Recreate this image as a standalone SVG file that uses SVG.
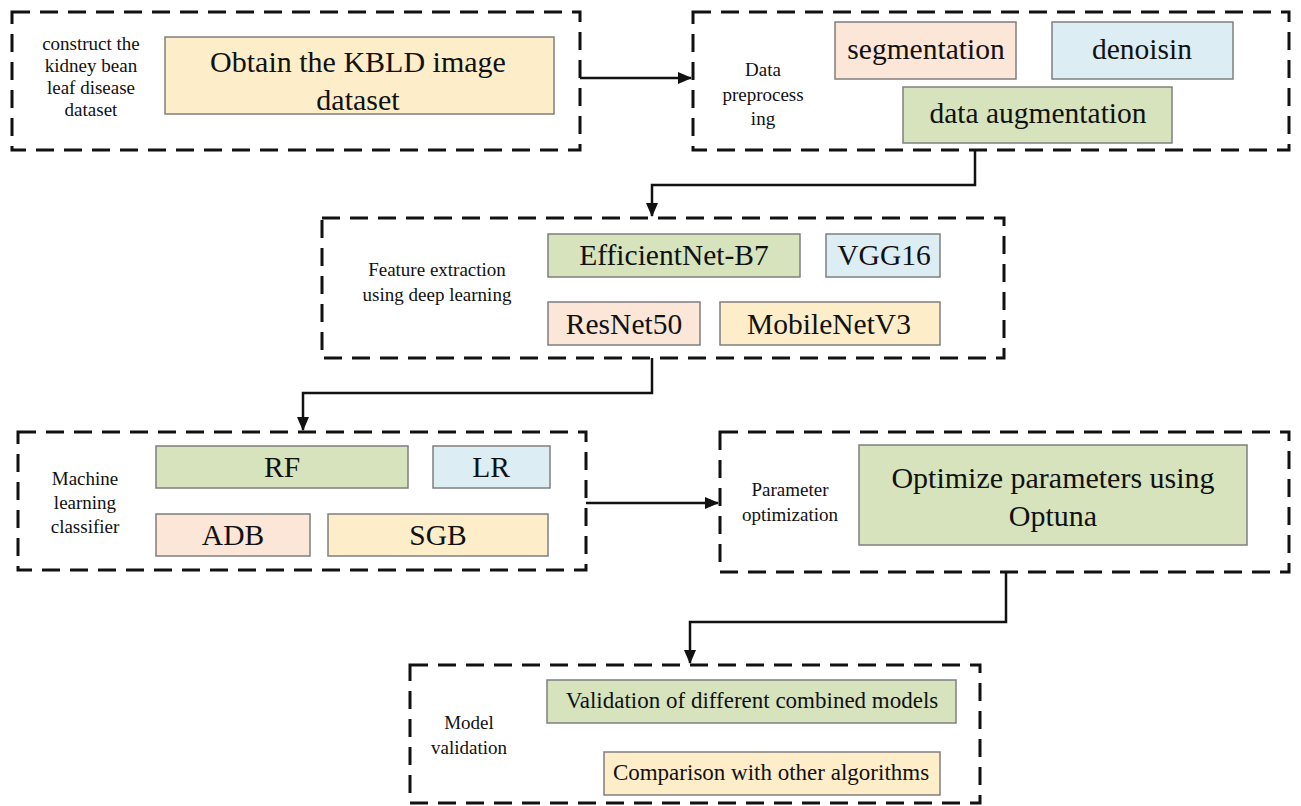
<svg xmlns="http://www.w3.org/2000/svg" width="1301" height="806" viewBox="0 0 1301 806">
<defs>
<style>
.grp{fill:none;stroke:#111;stroke-width:3;stroke-dasharray:18 10}
.b{stroke:#7f7f7f;stroke-width:1.5}
.y{fill:#fdedc9}.p{fill:#fbe6d8}.bl{fill:#dcedf4}.g{fill:#d6e3bd}
.t{font-family:"Liberation Serif","Times New Roman",serif;fill:#111;text-anchor:middle}
.big{font-size:30px}.mid{font-size:29.5px}.sm{font-size:23px}.lab{font-size:19px}
.c{fill:none;stroke:#111;stroke-width:2.5}
</style>
<marker id="ah" markerWidth="14" markerHeight="12" refX="13" refY="6" orient="auto" markerUnits="userSpaceOnUse">
<path d="M0,0 L14,6 L0,12 Z" fill="#111"/>
</marker>
</defs>
<rect width="1301" height="806" fill="#fff"/>

<g id="connectors">
<path class="c" d="M580,78 H691" marker-end="url(#ah)"/>
<path class="c" d="M975,150 V185 H652 V216" marker-end="url(#ah)"/>
<path class="c" d="M652,358 V393 H303 V430" marker-end="url(#ah)"/>
<path class="c" d="M586,503 H718" marker-end="url(#ah)"/>
<path class="c" d="M1006,572 V622 H690 V663" marker-end="url(#ah)"/>
</g>

<g id="node-dataset">
<rect class="grp" x="12" y="12" width="568" height="138"/>
<text class="t lab" x="91" y="50">construct the</text>
<text class="t lab" x="91" y="72">kidney bean</text>
<text class="t lab" x="91" y="94">leaf disease</text>
<text class="t lab" x="91" y="116">dataset</text>
<rect class="b y" x="165" y="37" width="389" height="77"/>
<text class="t big" x="358" y="72">Obtain the KBLD image</text>
<text class="t big" x="358" y="110">dataset</text>
</g>

<g id="node-preprocessing">
<rect class="grp" x="693" y="12" width="596" height="138"/>
<text class="t lab" x="763" y="76">Data</text>
<text class="t lab" x="763" y="101">preprocess</text>
<text class="t lab" x="763" y="125">ing</text>
<rect class="b p" x="835" y="22" width="181" height="57"/>
<text class="t mid" x="926" y="59">segmentation</text>
<rect class="b bl" x="1052" y="22" width="181" height="57"/>
<text class="t mid" x="1142" y="59">denoisin</text>
<rect class="b g" x="903" y="87" width="269" height="56"/>
<text class="t mid" x="1038" y="123">data augmentation</text>
</g>

<g id="node-feature">
<rect class="grp" x="322" y="218" width="682" height="140"/>
<text class="t lab" x="437" y="276">Feature extraction</text>
<text class="t lab" x="437" y="301">using deep learning</text>
<rect class="b g" x="548" y="234" width="252" height="43"/>
<text class="t mid" x="674" y="265">EfficientNet-B7</text>
<rect class="b bl" x="826" y="234" width="114" height="43"/>
<text class="t mid" x="884" y="265">VGG16</text>
<rect class="b p" x="548" y="302" width="152" height="43"/>
<text class="t mid" x="624" y="334">ResNet50</text>
<rect class="b y" x="720" y="302" width="220" height="43"/>
<text class="t mid" x="829" y="334">MobileNetV3</text>
</g>

<g id="node-classifier">
<rect class="grp" x="18" y="432" width="568" height="138"/>
<text class="t lab" x="85" y="485">Machine</text>
<text class="t lab" x="85" y="509">learning</text>
<text class="t lab" x="85" y="533">classifier</text>
<rect class="b g" x="156" y="446" width="252" height="42"/>
<text class="t mid" x="282" y="477">RF</text>
<rect class="b bl" x="433" y="446" width="117" height="42"/>
<text class="t mid" x="491" y="477">LR</text>
<rect class="b p" x="156" y="514" width="154" height="42"/>
<text class="t mid" x="233" y="545">ADB</text>
<rect class="b y" x="328" y="514" width="220" height="42"/>
<text class="t mid" x="438" y="545">SGB</text>
</g>

<g id="node-optimization">
<rect class="grp" x="720" y="432" width="569" height="140"/>
<text class="t lab" x="790" y="496">Parameter</text>
<text class="t lab" x="790" y="521">optimization</text>
<rect class="b g" x="859" y="445" width="388" height="100"/>
<text class="t big" x="1053" y="488">Optimize parameters using</text>
<text class="t big" x="1053" y="526">Optuna</text>
</g>

<g id="node-validation">
<rect class="grp" x="410" y="665" width="570" height="138"/>
<text class="t lab" x="469" y="729">Model</text>
<text class="t lab" x="469" y="754">validation</text>
<rect class="b g" x="547" y="680" width="409" height="43"/>
<text class="t sm" x="752" y="708">Validation of different combined models</text>
<rect class="b y" x="604" y="752" width="336" height="43"/>
<text class="t sm" x="771" y="780">Comparison with other algorithms</text>
</g>
</svg>
